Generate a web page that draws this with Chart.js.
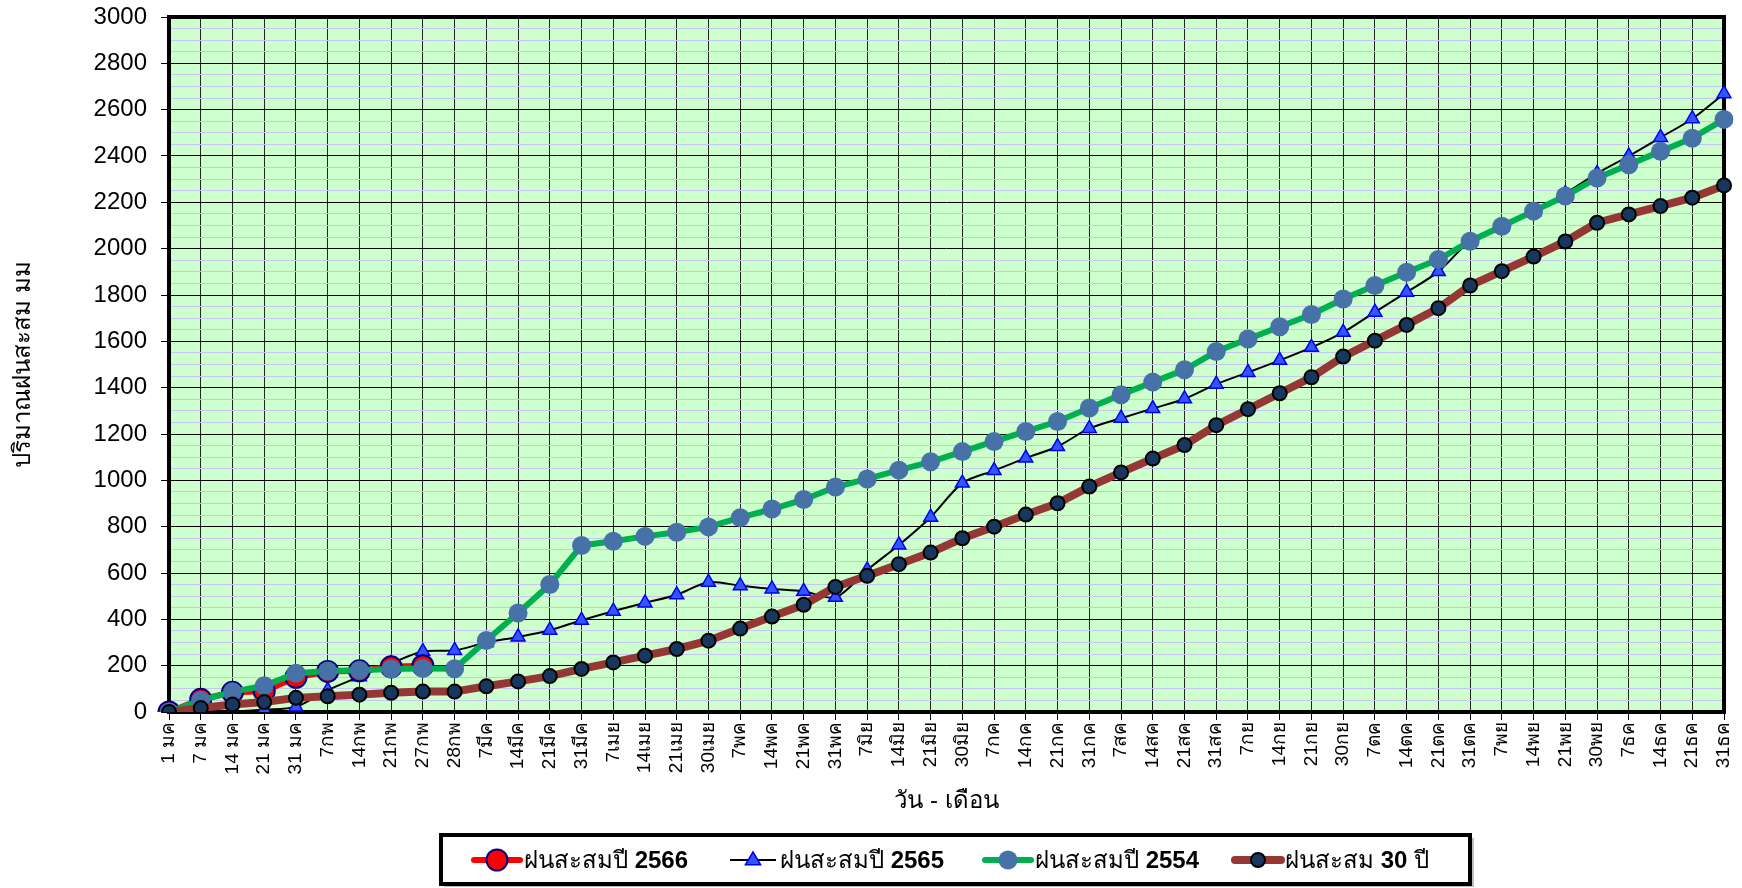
<!DOCTYPE html>
<html>
<head>
<meta charset="utf-8">
<title>ฝนสะสม</title>
<script src="https://cdn.jsdelivr.net/npm/chart.js@4.4.1/dist/chart.umd.min.js"></script>
<style>
  html, body { margin: 0; padding: 0; background: #fff; }
  #wrap { width: 1742px; height: 888px; position: relative; }
</style>
</head>
<body>
<div id="wrap"><canvas id="rainChart"></canvas></div>
<script>
// === Data ===
const dayLabels = [
  '1 มค', '7 มค', '14 มค', '21 มค', '31 มค', '7กพ', '14กพ', '21กพ', '27กพ', '28กพ',
  '7มีค', '14มีค', '21มีค', '31มีค', '7เมย', '14เมย', '21เมย', '30เมย', '7พค', '14พค',
  '21พค', '31พค', '7มิย', '14มิย', '21มิย', '30มิย', '7กค', '14กค', '21กค', '31กค',
  '7สค', '14สค', '21สค', '31สค', '7กย', '14กย', '21กย', '30กย', '7ตค', '14ตค',
  '21ตค', '31ตค', '7พย', '14พย', '21พย', '30พย', '7ธค', '14ธค', '21ธค', '31ธค'
];

const rain2566 = [0, 55, 85, 90, 150, 175, 178, 195, 200];

const rain2565 = [
  0, 3, 3, 10, 22, 94, 152, 210, 261, 266,
  300, 324, 353, 396, 435, 471, 506, 560, 545, 531,
  521, 495, 613, 721, 841, 988, 1042, 1096, 1146, 1224,
  1268, 1310, 1352, 1415, 1466, 1518, 1574, 1639, 1726, 1812,
  1901, 2032, 2095, 2158, 2238, 2325, 2400, 2480, 2561, 2669
];

const rain2554 = [
  0, 50, 87, 113, 167, 177, 180, 186, 188, 187,
  309, 427, 550, 719, 737, 758, 776, 799, 839, 876,
  917, 971, 1006, 1044, 1080, 1124, 1168, 1211, 1254, 1312,
  1369, 1424, 1477, 1556, 1610, 1663, 1716, 1783, 1841, 1898,
  1953, 2032, 2097, 2162, 2227, 2305, 2362, 2420, 2477, 2558
];

const rain30yr = [
  0, 17, 32, 43, 61, 68, 75, 83, 88, 88,
  111, 132, 155, 186, 214, 243, 272, 308, 360, 412,
  463, 540, 588, 638, 688, 750, 800, 852, 901, 973,
  1034, 1094, 1152, 1238, 1307, 1376, 1445, 1534, 1603, 1671,
  1743, 1841, 1903, 1966, 2031, 2112, 2148, 2184, 2220, 2273
];

const seriesNames = ['ฝนสะสมปี 2566', 'ฝนสะสมปี 2565', 'ฝนสะสมปี 2554', 'ฝนสะสม 30 ปี'];

const FONT = '"Liberation Sans", Arial, "Noto Sans", sans-serif';

// === Plot background + frame ===
const plotFrame = {
  id: 'plotFrame',
  beforeDraw(chart) {
    const { ctx, chartArea: a } = chart;
    ctx.save();
    ctx.fillStyle = '#ccffcc';
    ctx.fillRect(a.left, a.top, a.right - a.left, a.bottom - a.top);
    ctx.restore();
  },
  beforeDatasetsDraw(chart) {
    const { ctx, chartArea: a } = chart;
    ctx.save();
    ctx.strokeStyle = '#000';
    ctx.lineWidth = 4;
    ctx.strokeRect(a.left, a.top, a.right - a.left, a.bottom - a.top);
    ctx.restore();
  }
};

// === Legend in a framed box (numbers bold) ===
function drawMarker(ctx, ds, x, y) {
  const r = ds.pointRadius;
  ctx.fillStyle = ds.pointBackgroundColor;
  ctx.strokeStyle = ds.pointBorderColor;
  ctx.lineWidth = ds.pointBorderWidth;
  ctx.beginPath();
  if (ds.pointStyle === 'triangle') {
    ctx.moveTo(x, y - r);
    ctx.lineTo(x + r * 0.95, y + r * 0.6);
    ctx.lineTo(x - r * 0.95, y + r * 0.6);
    ctx.closePath();
  } else {
    ctx.arc(x, y, r, 0, Math.PI * 2);
  }
  ctx.fill();
  if (ds.pointBorderWidth > 0) ctx.stroke();
}

const boxLegend = {
  id: 'boxLegend',
  afterDraw(chart) {
    const ctx = chart.ctx;
    ctx.save();
    ctx.fillStyle = 'rgba(0,0,0,0.25)';
    ctx.fillRect(444, 838, 1030, 49);
    ctx.fillStyle = '#fff';
    ctx.fillRect(441, 835, 1029, 49);
    ctx.strokeStyle = '#000';
    ctx.lineWidth = 4;
    ctx.strokeRect(441, 835, 1029, 49);

    const itemX = [474, 730, 985, 1235];
    const y = 860;
    chart.data.datasets.forEach((ds, i) => {
      const x = itemX[i];
      ctx.strokeStyle = ds.borderColor;
      ctx.lineWidth = Math.max(ds.borderWidth, 2);
      ctx.lineCap = ds.borderWidth > 3 ? 'round' : 'butt';
      ctx.beginPath();
      ctx.moveTo(x, y);
      ctx.lineTo(x + 46, y);
      ctx.stroke();
      drawMarker(ctx, ds, x + 23, y);

      let tx = x + 50;
      ctx.fillStyle = '#000';
      ctx.textBaseline = 'middle';
      ds.label.split(/(\d+)/).forEach(part => {
        if (!part) return;
        ctx.font = (/\d/.test(part) ? 'bold ' : '') + '24px ' + FONT;
        ctx.fillText(part, tx, y + 1);
        tx += ctx.measureText(part).width;
      });
    });
    ctx.restore();
  }
};

// === Chart ===
const ctx = document.getElementById('rainChart').getContext('2d');
new Chart(ctx, {
  type: 'line',
  data: {
    labels: dayLabels,
    datasets: [
      {
        label: seriesNames[0],
        data: rain2566,
        borderColor: '#ff0000',
        borderWidth: 6,
        pointRadius: 10.5,
        pointBackgroundColor: '#ff0000',
        pointBorderColor: '#000080',
        pointBorderWidth: 2,
        order: 2
      },
      {
        label: seriesNames[1],
        data: rain2565,
        borderColor: '#000000',
        borderWidth: 2,
        tension: 0.3,
        pointStyle: 'triangle',
        pointRadius: 8,
        pointBackgroundColor: '#3355ff',
        pointBorderColor: '#0000ee',
        pointBorderWidth: 1.5,
        order: 3
      },
      {
        label: seriesNames[2],
        data: rain2554,
        borderColor: '#00b050',
        borderWidth: 6,
        pointRadius: 9.5,
        pointBackgroundColor: '#4672a8',
        pointBorderColor: '#4672a8',
        pointBorderWidth: 0,
        order: 1
      },
      {
        label: seriesNames[3],
        data: rain30yr,
        borderColor: '#953735',
        borderWidth: 8,
        pointRadius: 7,
        pointBackgroundColor: '#17375e',
        pointBorderColor: '#000000',
        pointBorderWidth: 2,
        order: 0
      }
    ]
  },
  options: {
    responsive: true,
    maintainAspectRatio: false,
    animation: false,
    devicePixelRatio: 1,
    layout: { padding: { top: 17, right: 18, left: 0, bottom: 0 } },
    plugins: {
      legend: { display: false },
      tooltip: { enabled: false }
    },
    scales: {
      x: {
        afterFit(scale) {
          scale.height = 176;
          scale.paddingLeft = 0;
          scale.paddingRight = 0;
        },
        border: { display: false },
        grid: { color: 'rgba(0,0,0,0.85)', lineWidth: 1, tickLength: 8, tickColor: '#000' },
        ticks: {
          autoSkip: false,
          minRotation: 90,
          maxRotation: 90,
          padding: 2,
          color: '#000',
          font: { size: 19, family: FONT }
        },
        title: {
          display: true,
          text: 'วัน - เดือน',
          color: '#000',
          font: { size: 24, family: FONT },
          padding: { top: 0, bottom: 72 }
        }
      },
      y: {
        min: 0,
        max: 3000,
        afterFit(scale) {
          scale.width = 169;
          scale.paddingTop = 0;
          scale.paddingBottom = 0;
        },
        border: { display: false },
        grid: {
          lineWidth: 1,
          tickLength: 8,
          color: c => (c.tick && c.tick.value % 200 === 0) ? '#000' : '#c6c6f2',
          tickColor: c => (c.tick && c.tick.value % 200 === 0) ? '#000' : 'rgba(0,0,0,0)'
        },
        ticks: {
          stepSize: 50,
          autoSkip: false,
          padding: 14,
          color: '#000',
          font: { size: 24, family: FONT },
          callback: v => (v % 200 === 0 ? v : '')
        },
        title: {
          display: true,
          text: 'ปริมาณฝนสะสม มม',
          color: '#000',
          font: { size: 24, family: FONT },
          padding: { top: 9, bottom: 0 }
        }
      }
    }
  },
  plugins: [plotFrame, boxLegend]
});
</script>
</body>
</html>
